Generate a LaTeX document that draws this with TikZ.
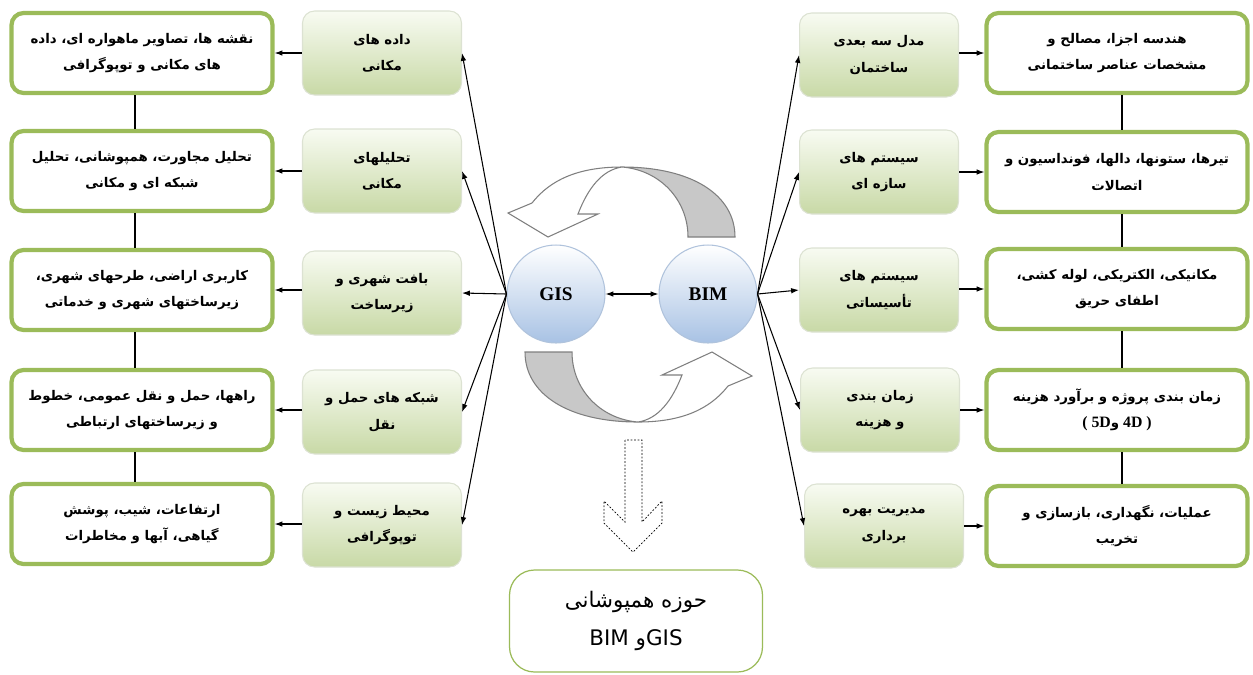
\documentclass[tikz,border=0pt]{standalone}
\usepackage{fontspec}
\usetikzlibrary{arrows.meta,calc}
\TeXXeTstate=1
\newfontfamily\farsi[Script=Arabic]{DejaVu Sans}
\newfontfamily\lserif{Liberation Serif}
\newcommand\rl[1]{\beginR #1\endR}
\newcommand\fab{\farsi\bfseries\fontsize{7.6}{15}\selectfont}
\newcommand\latb{\lserif\bfseries\fontsize{9}{15}\selectfont}
\definecolor{ogreen}{HTML}{9BBB59}
\definecolor{igray}{HTML}{DCE2D2}
\definecolor{itop}{HTML}{F8FBF2}
\definecolor{ibot}{HTML}{C8D9A6}
\definecolor{cblue}{HTML}{B0C3DC}
\definecolor{cbluef}{HTML}{A8C2E4}
\definecolor{agray}{HTML}{7F7F7F}
\definecolor{afill}{HTML}{C8C8C8}
\tikzset{
  outerbox/.style={draw=ogreen, line width=2.4pt, rounded corners=0.24cm, fill=white,
    minimum width=5.22cm, minimum height=1.6cm, align=center, font=\fab, inner sep=2pt},
  innerbox/.style={draw=igray, line width=0.6pt, rounded corners=0.24cm, top color=itop, bottom color=ibot,
    minimum width=3.18cm, minimum height=1.68cm, align=center, font=\fab, inner sep=2pt},
  circ/.style={circle, draw=cblue, line width=0.6pt, top color=white, bottom color=cbluef,
    minimum size=1.96cm, font=\lserif\bfseries\fontsize{11}{13}\selectfont},
  conn/.style={-{Latex[length=4.5pt,width=3.2pt]}, line width=0.6pt},
  link/.style={line width=0.6pt},
  bandline/.style={draw=agray, line width=0.6pt},
  dotarrow/.style={draw=black, line width=0.4pt, dash pattern=on 1pt off 1pt},
  overlapbox/.style={draw=ogreen, line width=0.7pt, rounded corners=0.5cm, fill=white,
    minimum width=5.06cm, minimum height=2.04cm, align=center,
    font=\farsi\fontsize{12.2}{22}\selectfont},
}
\begin{document}
\begin{tikzpicture}[x=0.02cm,y=-0.02cm]
\useasboundingbox (0,0) rectangle (1253,674);

% left outer boxes
\node[outerbox] (oL1) at (142,53) {\rl{نقشه ها، تصاویر ماهواره ای، داده}\\\rl{های مکانی و توپوگرافی}};
\node[outerbox] (oL2) at (142,171) {\rl{تحلیل مجاورت، همپوشانی، تحلیل}\\\rl{شبکه ای و مکانی}};
\node[outerbox] (oL3) at (142,290) {\rl{کاربری اراضی، طرحهای شهری،}\\\rl{زیرساختهای شهری و خدماتی}};
\node[outerbox] (oL4) at (142,410) {\rl{راهها، حمل و نقل عمومی، خطوط}\\\rl{و زیرساختهای ارتباطی}};
\node[outerbox] (oL5) at (142,524) {\rl{ارتفاعات، شیب، پوشش}\\\rl{گیاهی، آبها و مخاطرات}};

% left inner boxes
\node[innerbox] (iL1) at (382,53) {\rl{داده های}\\\rl{مکانی}};
\node[innerbox] (iL2) at (382,171) {\rl{تحلیلهای}\\\rl{مکانی}};
\node[innerbox] (iL3) at (382,293) {\rl{بافت شهری و}\\\rl{زیرساخت}};
\node[innerbox] (iL4) at (382,412) {\rl{شبکه های حمل و}\\\rl{نقل}};
\node[innerbox] (iL5) at (382,525) {\rl{محیط زیست و}\\\rl{توپوگرافی}};

% right inner boxes
\node[innerbox] (iR1) at (879,55) {\rl{مدل سه بعدی}\\\rl{ساختمان}};
\node[innerbox] (iR2) at (879,172) {\rl{سیستم های}\\\rl{سازه ای}};
\node[innerbox] (iR3) at (879,290) {\rl{سیستم های}\\\rl{تأسیساتی}};
\node[innerbox] (iR4) at (880,410) {\rl{زمان بندی}\\\rl{و هزینه}};
\node[innerbox] (iR5) at (884,526) {\rl{مدیریت بهره}\\\rl{برداری}};

% right outer boxes
\node[outerbox] (oR1) at (1117,53) {\rl{هندسه اجزا، مصالح و}\\\rl{مشخصات عناصر ساختمانی}};
\node[outerbox] (oR2) at (1117,172) {\rl{تیرها، ستونها، دالها، فونداسیون و}\\\rl{اتصالات}};
\node[outerbox] (oR3) at (1117,289) {\rl{مکانیکی، الکتریکی، لوله کشی،}\\\rl{اطفای حریق}};
\node[outerbox] (oR4) at (1117,410) {\rl{زمان بندی پروژه و برآورد هزینه}\\{\latb ( 5D}{\fab و}{\latb\ 4D )}};
\node[outerbox] (oR5) at (1117,526) {\rl{عملیات، نگهداری، بازسازی و}\\\rl{تخریب}};

% circles
\node[circ] (GIS) at (556,294) {GIS};
\node[circ] (BIM) at (708,294) {BIM};

% bottom box
\node[overlapbox] (ov) at (636,621) {\rl{حوزه همپوشانی}\\\rl{\beginL GIS\endL{}و \beginL BIM\endL}};

% vertical links
\foreach \a/\b in {oL1/oL2,oL2/oL3,oL3/oL4,oL4/oL5}
  \draw[link] ([xshift=-0.14cm]\a.south) -- ([xshift=-0.14cm]\b.north);
\foreach \a/\b in {oR1/oR2,oR2/oR3,oR3/oR4,oR4/oR5}
  \draw[link] ([xshift=0.1cm]\a.south) -- ([xshift=0.1cm]\b.north);

% inner to outer
\foreach \i in {1,...,5} {
  \draw[conn] (iL\i.west |- oL\i.east) -- (oL\i.east);
  \draw[conn] (iR\i.east |- oR\i.west) -- (oR\i.west);
}

% circle connectors
\foreach \i in {1,...,5} {
  \draw[conn] (GIS.west) -- (iL\i.east);
  \draw[conn] (BIM.east) -- (iR\i.west);
}
\draw[{Latex[length=4.5pt,width=3.2pt]}-{Latex[length=4.5pt,width=3.2pt]}, line width=0.6pt] (GIS.east) -- (BIM.west);

% curved arrows
\begin{scope}
  \path[bandline, fill=afill] (622,167) .. controls (692,167) and (735,195) .. (735,237) -- (688,237) .. controls (688,200) and (660,170) .. (622,167) -- cycle;
  \path[bandline, fill=white] (622,167) .. controls (578,167) and (550,180) .. (532,203) -- (508,213) -- (548,237) -- (598,214) -- (578,214) .. controls (588,188) and (602,170) .. (622,167) -- cycle;
\end{scope}
\begin{scope}[rotate around={180:(630,294.5)}]
  \path[bandline, fill=afill] (622,167) .. controls (692,167) and (735,195) .. (735,237) -- (688,237) .. controls (688,200) and (660,170) .. (622,167) -- cycle;
  \path[bandline, fill=white] (622,167) .. controls (578,167) and (550,180) .. (532,203) -- (508,213) -- (548,237) -- (598,214) -- (578,214) .. controls (588,188) and (602,170) .. (622,167) -- cycle;
\end{scope}

% dotted down arrow
\draw[dotarrow] (625,440) -- (625,522) -- (604,501) -- (604,523) -- (633,552) -- (662,523) -- (662,501) -- (642,522) -- (642,440) -- cycle;

\end{tikzpicture}
\end{document}
